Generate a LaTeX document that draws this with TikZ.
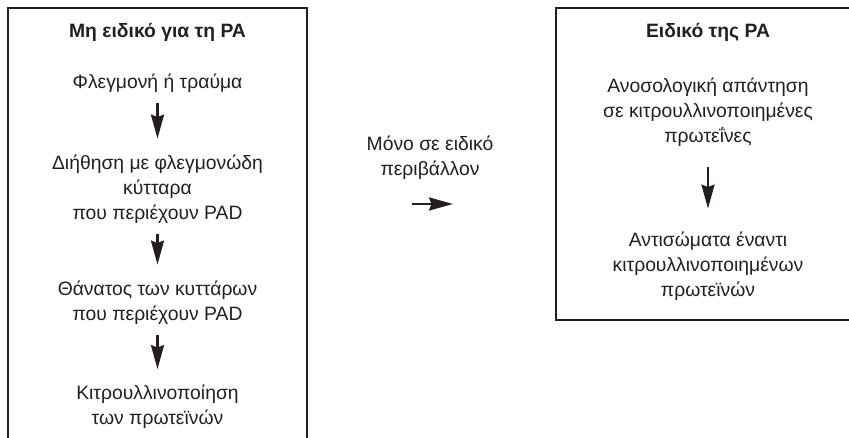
\documentclass[tikz,border=0pt]{standalone}
\usepackage{fontspec}
\setmainfont{Liberation Sans}
\usetikzlibrary{arrows.meta}

\definecolor{ink}{RGB}{35,31,32}

\tikzset{
  txt/.style={align=center, inner sep=0pt, text=ink, font=\fontsize{11}{14.2}\selectfont},
  ttl/.style={txt, font=\fontsize{11}{14.2}\selectfont\bfseries},
  frame/.style={draw=ink, line width=1.5pt},
  flow/.style={draw=ink, line width=1.4pt, -{Stealth[length=0.48cm, width=0.26cm, inset=0.05cm]}, shorten <=6pt, shorten >=9pt}
}

\begin{document}
\begin{tikzpicture}[x=0.02cm, y=-0.02cm]
		\useasboundingbox (0,0) rectangle (849,438);
		\clip (0,0) rectangle (849,438);

		% Frames
		\draw[frame] (8,8) rectangle (307,460);
		\draw[frame] (556,8) rectangle (880,320);

		% Left column
		\node (nonspec) [ttl] at (157.5,32) {Μη ειδικό για τη PA};
		\node (fleg) [txt] at (157.5,83) {Φλεγμονή ή τραύμα};
		\node (dieth) [txt] at (157.5,189) {Διήθηση με φλεγμονώδη\\κύτταρα\\που περιέχουν PAD};
		\node (death) [txt] at (157.5,302.5) {Θάνατος των κυττάρων\\που περιέχουν PAD};
		\node (citr) [txt] at (157.5,407) {Κιτρουλλινοποίηση\\των πρωτεϊνών};

		% Middle
		\node (only) [txt] at (430,158) {Μόνο σε ειδικό\\περιβάλλον};
		\coordinate (midA) at (412,204);
		\coordinate (midB) at (453,204);

		% Right column
		\node (spec) [ttl] at (708,32) {Ειδικό της PA};
		\node (immune) [txt] at (708,112) {Ανοσολογική απάντηση\\σε κιτρουλλινοποιημένες\\πρωτεΐνες};
		\node (antib) [txt] at (708,266) {Αντισώματα έναντι\\κιτρουλλινοποιημένων\\πρωτεϊνών};

		% Arrows
		\draw[flow] (fleg) -- (dieth);
		\draw[flow] (dieth) -- (death);
		\draw[flow] (death) -- (citr);
		\draw[flow, shorten <=0pt, shorten >=0pt] (midA) -- (midB);
		\draw[flow, shorten <=11.5pt, shorten >=13pt] (immune) -- (antib);
	\end{tikzpicture}
\end{document}
